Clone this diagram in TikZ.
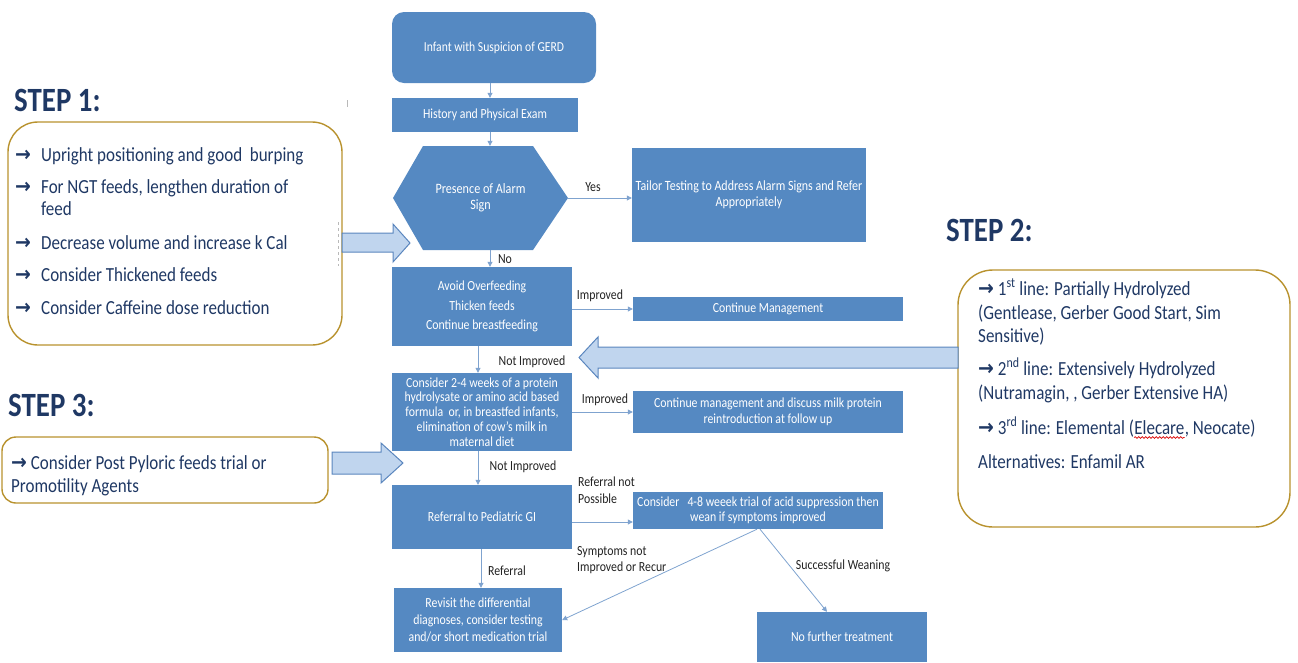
\documentclass[tikz,border=0pt]{standalone}
\usepackage{fontspec}
\setmainfont{Carlito}[FakeStretch=0.85]
\newfontfamily\symfont{DejaVu Sans}[FakeStretch=0.9]
\usetikzlibrary{arrows.meta,decorations.pathmorphing}
\definecolor{boxblue}{HTML}{5589C2}
\definecolor{linkblue}{HTML}{7FA3CF}
\definecolor{arrfill}{HTML}{C0D5EE}
\definecolor{arredge}{HTML}{5A86BE}
\definecolor{gold}{HTML}{B8922E}
\definecolor{navy}{HTML}{1F3864}
\definecolor{labgray}{HTML}{222222}
\newcommand{\rarr}{{\symfont\bfseries\fontsize{21}{22}\selectfont →}}
\begin{document}
\begin{tikzpicture}[x=1pt,y=-1pt,
  fbox/.style={fill=boxblue, text=white, inner sep=0pt, font=\fontsize{13.9}{15}\selectfont, align=center},
  conn/.style={draw=linkblue, line width=0.8pt, -{Triangle[width=5pt,length=5pt]}},
  lab/.style={font=\fontsize{13.9}{16.5}\selectfont, text=labgray, inner sep=0pt, align=left},
  stepbox/.style={draw=gold, line width=1.4pt, inner sep=0pt},
  steptitle/.style={font=\fontsize{34}{40}\selectfont\bfseries, text=navy, inner sep=0pt, anchor=base west},
  item/.style={font=\fontsize{20}{22}\selectfont, text=navy, inner sep=0pt, anchor=base west},
  itemb/.style={font=\fontsize{20}{22}\selectfont, text=navy, inner sep=0pt, anchor=base west},
  bigarrow/.style={fill=arrfill, draw=arredge, line width=1pt, line join=miter},
]
\useasboundingbox (0,0) rectangle (1298,662);

% ---------- main column ----------
\node[fbox, rounded corners=12pt, minimum width=204pt, minimum height=71pt, font=\fontsize{13.7}{15}\selectfont] (infant) at (494,47.5) {Infant with Suspicion of GERD};
\node[fbox, minimum width=186pt, minimum height=34pt] (hist) at (485,115) {History and Physical Exam};
\fill[boxblue] (393,198) -- (423,146) -- (533,146) -- (568,198) -- (533,250) -- (423,250) -- cycle;
\node[fbox, fill=none, minimum width=175pt, minimum height=104pt, font=\fontsize{14.3}{15.5}\selectfont] (hex) at (480.5,198) {Presence of Alarm\\Sign};
\node[fbox, minimum width=234pt, minimum height=94pt, font=\fontsize{14.1}{16}\selectfont] (tailor) at (749,195) {Tailor Testing to Address Alarm Signs and Refer\\Appropriately};
\node[fbox, minimum width=180pt, minimum height=79pt, font=\fontsize{13.9}{19.5}\selectfont] (avoid) at (482,306.5) {Avoid Overfeeding\\Thicken feeds\\Continue breastfeeding};
\node[fbox, minimum width=270pt, minimum height=24pt] (cm) at (768,309) {Continue Management};
\node[fbox, minimum width=180pt, minimum height=78pt, font=\fontsize{13.9}{14.8}\selectfont] (cons) at (482,412) {Consider 2-4 weeks of a protein\\hydrolysate or amino acid based\\formula\ \ or, in breastfed infants,\\elimination of cow's milk in\\maternal diet};
\node[fbox, minimum width=270pt, minimum height=42pt, font=\fontsize{13.9}{16}\selectfont] (cmd) at (768,412) {Continue management and discuss milk protein\\reintroduction at follow up};
\node[fbox, minimum width=180pt, minimum height=64pt] (ref) at (482,517) {Referral to Pediatric GI};
\node[fbox, minimum width=250pt, minimum height=37pt] (acid) at (758,510.5) {Consider\ \ \ 4-8 weeek trial of acid suppression then\\wean if symptoms improved};
\node[fbox, minimum width=168pt, minimum height=64pt, font=\fontsize{13.9}{17}\selectfont] (rev) at (478,620) {Revisit the differential\\diagnoses, consider testing\\and/or short medication trial};
\node[fbox, minimum width=170pt, minimum height=50pt] (nft) at (842,637) {No further treatment};

% ---------- connectors ----------
\coordinate (ca) at (490,0);
\coordinate (cb) at (478,0);
\coordinate (cc) at (481,0);
\coordinate (r1) at (0,522);
\coordinate (nx) at (827,0);
\draw[conn] (infant.south -| ca) -- (hist.north -| ca);
\draw[conn] (hist.south -| ca) -- (hex.north -| ca);
\draw[conn] (hex.east) -- (hex.east -| tailor.west);
\draw[conn] (hex.south -| ca) -- (avoid.north -| ca);
\draw[conn] (cm.west -| avoid.east) -- (cm.west);
\draw[conn] (avoid.south -| cb) -- (cons.north -| cb);
\draw[conn] (cmd.west -| cons.east) -- (cmd.west);
\draw[conn] (cons.south -| cb) -- (ref.north -| cb);
\draw[conn] (ref.east |- r1) -- (acid.west |- r1);
\draw[conn] (ref.south -| cc) -- (rev.north -| cc);
\draw[conn] ([xshift=-1pt]acid.south) -- (rev.east);
\draw[conn] ([xshift=2pt]acid.south) -- (nft.north -| nx);

% ---------- labels ----------
\node[lab] (lyes) at (593,187) {Yes};
\node[lab] (lno) at (505,259) {No};
\node[lab] (limp1) at (600,296) {Improved};
\node[lab] (lnot1) at (532,362) {Not Improved};
\node[lab] (limp2) at (605,400) {Improved};
\node[lab] (lnot2) at (523,467) {Not Improved};
\node[lab, anchor=west] (lrnp) at (578,490) {Referral not\\Possible};
\node[lab, anchor=west] (lsym) at (577,560) {Symptoms not\\Improved or Recur};
\node[lab] (lref) at (507,571) {Referral};
\node[lab] (lsw) at (843,566) {Successful Weaning};

% ---------- step boxes ----------
\node[stepbox, rounded corners=30pt, minimum width=334pt, minimum height=223pt] (s1) at (175,233.5) {};
\node[stepbox, rounded corners=35pt, minimum width=332pt, minimum height=257pt] (s2) at (1124,398.5) {};
\node[stepbox, rounded corners=14pt, minimum width=326pt, minimum height=66pt] (s3) at (165,470) {};

\node[steptitle] (t1) at (14,111) {STEP 1:};
\node[steptitle] (t2) at (946,241) {STEP 2:};
\node[steptitle] (t3) at (8,416) {STEP 3:};

% step 1 items
\node[item] (s1a) at (15,161) {\makebox[26pt][l]{\rarr}Upright positioning and good\ \ burping};
\node[item] (s1b) at (15,193) {\makebox[26pt][l]{\rarr}For NGT feeds, lengthen duration of};
\node[item] (s1c) at (41,215) {feed};
\node[item] (s1d) at (15,249) {\makebox[26pt][l]{\rarr}Decrease volume and increase k Cal};
\node[item] (s1e) at (15,281) {\makebox[26pt][l]{\rarr}Consider Thickened feeds};
\node[item] (s1f) at (15,314) {\makebox[26pt][l]{\rarr}Consider Caffeine dose reduction};

% step 2 items
\node[itemb] (s2a) at (978,295) {\rarr\ 1\textsuperscript{st} line: Partially Hydrolyzed};
\node[itemb] (s2b) at (978,319) {(Gentlease, Gerber Good Start, Sim};
\node[itemb] (s2c) at (978,342) {Sensitive)};
\node[itemb] (s2d) at (978,375) {\rarr\ 2\textsuperscript{nd} line: Extensively Hydrolyzed};
\node[itemb] (s2e) at (978,399) {(Nutramagin, , Gerber Extensive HA)};
\node[itemb] (s2f) at (978,434) {\rarr\ 3\textsuperscript{rd} line: Elemental (};
\node[itemb] (s2g) at (s2f.base east) {Elecare};
\node[itemb] (s2h) at (s2g.base east) {, Neocate)};
\draw[red!85!black, line width=0.7pt, decorate, decoration={snake, amplitude=0.8pt, segment length=3.5pt}] ([yshift=-3.5pt]s2g.base west) -- ([yshift=-3.5pt]s2g.base east);
\node[itemb] (s2i) at (978,468) {Alternatives: Enfamil AR};

% step 3 items
\node[itemb] (s3a) at (11,469) {\rarr\ Consider Post Pyloric feeds trial or};
\node[itemb] (s3b) at (11,492) {Promotility Agents};

% ---------- big arrows ----------
\draw[bigarrow] (342,233) -- (393,233) -- (393,224) -- (410,243) -- (393,262) -- (393,252) -- (342,252) -- cycle;
\draw[bigarrow] (958,347) -- (598,347) -- (598,337) -- (579,357.5) -- (598,378) -- (598,368) -- (958,368) -- cycle;
\draw[bigarrow] (332,452) -- (381,452) -- (381,443) -- (403,463) -- (381,483) -- (381,474) -- (332,474) -- cycle;

% faint artifacts
\draw[gray!55, dashed, line width=0.6pt] (338,222) -- (338,266);
\draw[gray!55, line width=0.6pt] (347,100) -- (347,107);
\end{tikzpicture}
\end{document}
